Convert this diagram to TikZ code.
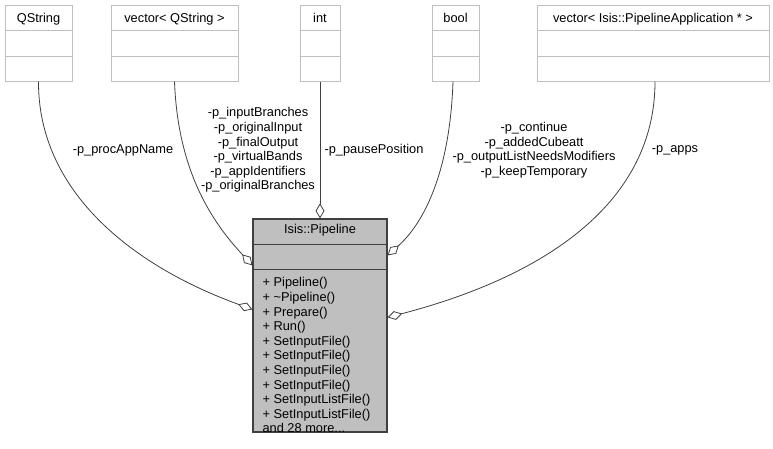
\documentclass[tikz,border=0pt]{standalone}
\usepackage{fontspec}
\setmainfont{Liberation Sans}
\usetikzlibrary{arrows.meta}
\definecolor{edgegray}{HTML}{404040}
\definecolor{boxgray}{HTML}{BFBFBF}

\begin{document}
\begin{tikzpicture}[x=1pt, y=-1pt,
    every node/.style={font=\fontsize{12.8}{14.6}\selectfont, inner sep=0pt},
    membox/.style={draw=boxgray, fill=white, line width=1pt, minimum height=76pt},
    mainbox/.style={draw=edgegray, fill=boxgray, line width=1.2pt, minimum width=134pt, minimum height=213pt},
    member/.style={draw=edgegray, line width=0.8pt, -{Diamond[open, length=15pt, width=9pt]}},
    lbl/.style={align=center}]
    \useasboundingbox[fill=white] (0,0) rectangle (773,448);

    % Member classes
    \node[membox, minimum width=67pt] (qstring) at (38.5,43) {};
    \node[anchor=base] (qstring-title) at ([yshift=-17.5pt]qstring.north) {QString};
    \draw[boxgray] ([yshift=-26pt]qstring.north west) -- ([yshift=-26pt]qstring.north east);
    \draw[boxgray] ([yshift=-52pt]qstring.north west) -- ([yshift=-52pt]qstring.north east);

    \node[membox, minimum width=127pt] (vqstring) at (174.5,43) {};
    \node[anchor=base] (vqstring-title) at ([yshift=-17.5pt]vqstring.north) {vector< QString >};
    \draw[boxgray] ([yshift=-26pt]vqstring.north west) -- ([yshift=-26pt]vqstring.north east);
    \draw[boxgray] ([yshift=-52pt]vqstring.north west) -- ([yshift=-52pt]vqstring.north east);

    \node[membox, minimum width=40pt] (int) at (320,43) {};
    \node[anchor=base] (int-title) at ([yshift=-17.5pt]int.north) {int};
    \draw[boxgray] ([yshift=-26pt]int.north west) -- ([yshift=-26pt]int.north east);
    \draw[boxgray] ([yshift=-52pt]int.north west) -- ([yshift=-52pt]int.north east);

    \node[membox, minimum width=47pt] (bool) at (455.5,43) {};
    \node[anchor=base] (bool-title) at ([yshift=-17.5pt]bool.north) {bool};
    \draw[boxgray] ([yshift=-26pt]bool.north west) -- ([yshift=-26pt]bool.north east);
    \draw[boxgray] ([yshift=-52pt]bool.north west) -- ([yshift=-52pt]bool.north east);

    \node[membox, minimum width=232pt] (vapps) at (653,43) {};
    \node[anchor=base] (vapps-title) at ([yshift=-17.5pt]vapps.north) {vector< Isis::PipelineApplication * >};
    \draw[boxgray] ([yshift=-26pt]vapps.north west) -- ([yshift=-26pt]vapps.north east);
    \draw[boxgray] ([yshift=-52pt]vapps.north west) -- ([yshift=-52pt]vapps.north east);

    % The Pipeline class
    \node[mainbox] (pipe) at (320,325.5) {};
    \node[anchor=base] (pipe-title) at ([yshift=-15pt]pipe.north) {Isis::Pipeline};
    \draw[edgegray, line width=1.2pt] ([yshift=-26pt]pipe.north west) -- ([yshift=-26pt]pipe.north east);
    \draw[edgegray, line width=1.2pt] ([yshift=-51pt]pipe.north west) -- ([yshift=-51pt]pipe.north east);
    \node[anchor=north west, align=left] (pipe-ops) at ([xshift=10pt, yshift=-59pt]pipe.north west)
        {+ Pipeline()\\+ \textasciitilde Pipeline()\\+ Prepare()\\+ Run()\\+ SetInputFile()\\+ SetInputFile()\\+ SetInputFile()\\+ SetInputFile()\\+ SetInputListFile()\\+ SetInputListFile()\\and 28 more...};

    % Member edges
    \draw[member] (qstring.south) .. controls (38,190) and (130,265) .. ([yshift=-91pt]pipe.north west);
    \draw[member] (vqstring.south) .. controls (178,175) and (215,225) .. ([yshift=-47pt]pipe.north west);
    \draw[member] (int.south) -- (pipe.north);
    \draw[member] ([xshift=-2.5pt]bool.south) .. controls (450,170) and (425,222) .. ([yshift=-37pt]pipe.north east);
    \draw[member] ([xshift=2pt]vapps.south) .. controls (655,200) and (550,275) .. ([yshift=-99pt]pipe.north east);

    % Edge labels
    \node (lbl-procappname) at (123,150) {-p\_procAppName};
    \node[lbl] (lbl-strings) at (258,150) {-p\_inputBranches\\-p\_originalInput\\-p\_finalOutput\\-p\_virtualBands\\-p\_appIdentifiers\\-p\_originalBranches};
    \node (lbl-pause) at (374,150) {-p\_pausePosition};
    \node[lbl] (lbl-flags) at (534,150) {-p\_continue\\-p\_addedCubeatt\\-p\_outputListNeedsModifiers\\-p\_keepTemporary};
    \node (lbl-apps) at (675,150) {-p\_apps};
\end{tikzpicture}
\end{document}
